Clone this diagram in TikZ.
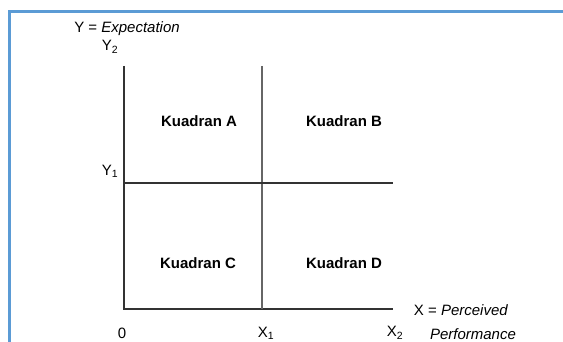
\documentclass[tikz,border=0pt]{standalone}
\usepackage{fontspec}
\setmainfont{Liberation Sans}
\usepackage{xcolor}
\usepackage{tikz}
\definecolor{frameblue}{RGB}{91,155,213}
\tikzstyle{frame} = [draw=frameblue, line width=3pt]
\tikzstyle{axis} = [draw=black!80, line width=1.4pt]
\tikzstyle{divider} = [draw=black!60, line width=1.2pt]
\tikzstyle{quad} = [inner sep=0pt, font=\fontsize{15}{18}\selectfont\bfseries]
\tikzstyle{lbl} = [inner sep=0pt, font=\fontsize{15}{18}\selectfont]

\begin{document}
\begin{tikzpicture}[x=1pt, y=-1pt]
    \useasboundingbox (0,0) rectangle (563,342);
    \draw [frame] (563,11.5) -- (9.5,11.5) -- (9.5,342);

    % axes and dividers
    \coordinate (origin) at (124,309);
    \coordinate (ytop) at (124,66);
    \coordinate (xend) at (393,309);
    \coordinate (midtop) at (262,66);
    \coordinate (midbot) at (262,309);
    \coordinate (y1left) at (124,183);
    \coordinate (y1right) at (393,183);

    \draw [axis] (ytop) -- (origin) -- (xend);
    \draw [divider] (midtop) -- (midbot);
    \draw [axis] (y1left) -- (y1right);

    \node (qa) [quad] at (199,121) {Kuadran A};
    \node (qb) [quad] at (344,121) {Kuadran B};
    \node (qc) [quad] at (198,263) {Kuadran C};
    \node (qd) [quad] at (344,263) {Kuadran D};

    \node (ylab) [lbl] at (127,29) {Y = \textit{Expectation}};
    \node (y2) [lbl] at (110,47) {Y\textsubscript{2}};
    \node (y1) [lbl] at (110,171) {Y\textsubscript{1}};
    \node (zero) [lbl] at (122,333) {0};
    \node (x1) [lbl] at (266,333) {X\textsubscript{1}};
    \node (x2) [lbl] at (395,333) {X\textsubscript{2}};
    \node (xlab) [lbl] at (461,310) {X = \textit{Perceived}};
    \node (perf) [lbl] at (473,334) {\textit{Performance}};
\end{tikzpicture}
\end{document}
